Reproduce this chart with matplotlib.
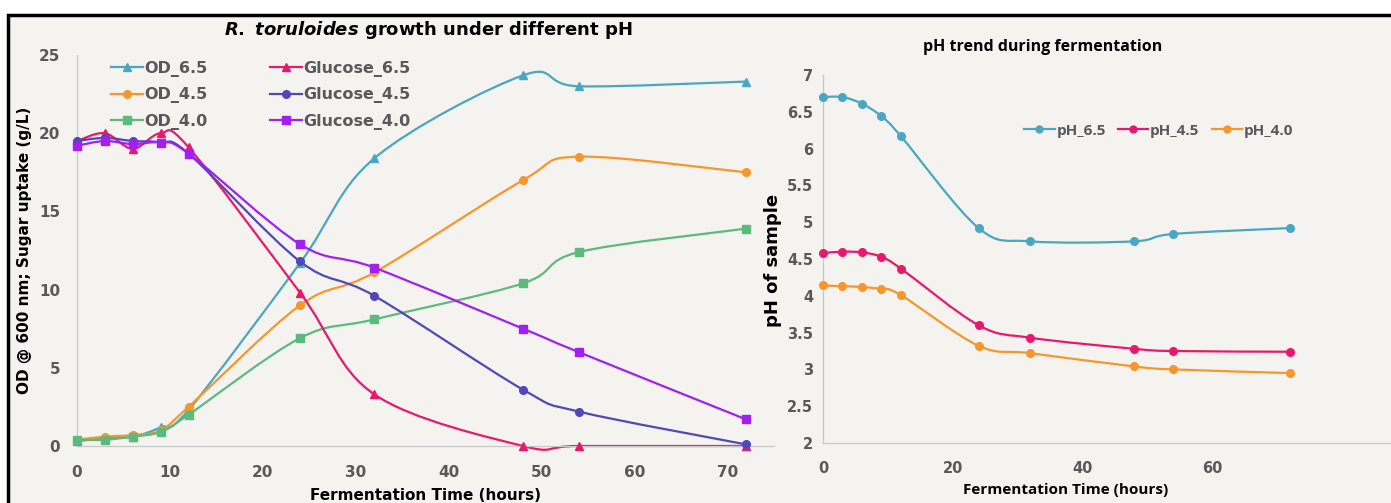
import matplotlib
matplotlib.use("Agg")
import matplotlib.pyplot as plt
import numpy as np
from matplotlib.path import Path
from matplotlib.patches import PathPatch, Rectangle
from matplotlib.lines import Line2D

plt.rcParams['font.family'] = ['DejaVu Sans']
plt.rcParams['mathtext.fontset'] = 'custom'
plt.rcParams['mathtext.it'] = 'DejaVu Sans:italic:bold'
plt.rcParams['mathtext.rm'] = 'DejaVu Sans:bold'

# --- данные: рост и потребление глюкозы ---
hours = [0, 3, 6, 9, 12, 24, 32, 48, 54, 72]

od_65 = [0.3, 0.5, 0.6, 1.2, 2.3, 11.7, 18.4, 23.7, 23.0, 23.3]
od_45 = [0.4, 0.6, 0.7, 1.0, 2.5, 9.0, 11.1, 17.0, 18.5, 17.5]
od_40 = [0.4, 0.4, 0.6, 0.9, 2.0, 6.9, 8.1, 10.4, 12.4, 13.9]
glc_65 = [19.5, 20.0, 19.0, 20.0, 19.1, 9.8, 3.3, 0.0, 0.0, 0.0]
glc_45 = [19.5, 19.7, 19.5, 19.4, 18.7, 11.8, 9.6, 3.6, 2.2, 0.1]
glc_40 = [19.2, 19.5, 19.3, 19.4, 18.7, 12.9, 11.4, 7.5, 6.0, 1.7]

# --- данные: pH во время ферментации ---
ph_65 = [6.70, 6.70, 6.61, 6.44, 6.17, 4.92, 4.74, 4.74, 4.84, 4.92]
ph_45 = [4.58, 4.60, 4.59, 4.53, 4.37, 3.60, 3.43, 3.28, 3.25, 3.24]
ph_40 = [4.14, 4.13, 4.12, 4.09, 4.01, 3.32, 3.22, 3.04, 3.00, 2.95]

TEAL = '#4aa6c1'
ORANGE = '#f7962c'
GREEN = '#5db97c'
PINK = '#e8196c'
INDIGO = '#5047b9'
PURPLE = '#a21ff2'
GRAY = '#595959'
BG = '#f4f3ef'
NARROW = 'Open Sans'


def smooth_line(ax, x, y, color, lw=1.6):
    # сглаженная линия как в Excel (Catmull-Rom -> Безье)
    p = np.column_stack([x, y]).astype(float)
    pts = [p[0]]
    codes = [Path.MOVETO]
    n = len(p)
    for i in range(n - 1):
        p0 = p[i - 1] if i > 0 else p[i]
        p3 = p[i + 2] if i + 2 < n else p[i + 1]
        c1 = p[i] + (p[i + 1] - p0) / 6
        c2 = p[i + 1] - (p3 - p[i]) / 6
        pts += [c1, c2, p[i + 1]]
        codes += [Path.CURVE4] * 3
    patch = PathPatch(Path(pts, codes), facecolor='none', edgecolor=color,
                      lw=lw, transform=ax.transData, clip_on=False)
    ax.add_patch(patch)


fig = plt.figure(figsize=(13.91, 5.03), dpi=100)
fig.patch.set_facecolor('white')
frame = Rectangle((8 / 1391, -0.1), 1.2, (503 - 15) / 503 + 0.1,
                  transform=fig.transFigure, facecolor=BG, edgecolor='black',
                  lw=2.5, zorder=-10)
fig.patches.append(frame)

ax1 = fig.add_axes([77 / 1391, 57 / 503, 697 / 1391, 391 / 503])
ax2 = fig.add_axes([823 / 1391, 60 / 503, 568 / 1391, 368 / 503])

series1 = [
    ('OD_6.5', od_65, TEAL, '^'),
    ('OD_4.5', od_45, ORANGE, 'o'),
    ('OD_4.0', od_40, GREEN, 's'),
    ('Glucose_6.5', glc_65, PINK, '^'),
    ('Glucose_4.5', glc_45, INDIGO, 'o'),
    ('Glucose_4.0', glc_40, PURPLE, 's'),
]
handles1 = []
for name, vals, col, mk in series1:
    smooth_line(ax1, hours, vals, col)
    ax1.plot(hours, vals, ls='none', marker=mk, color=col, ms=5.5, clip_on=False, zorder=5)
    handles1.append(Line2D([], [], color=col, lw=1.6, marker=mk, ms=5.5, label=name))

series2 = [
    ('pH_6.5', ph_65, TEAL),
    ('pH_4.5', ph_45, PINK),
    ('pH_4.0', ph_40, ORANGE),
]
handles2 = []
for name, vals, col in series2:
    smooth_line(ax2, hours, vals, col)
    ax2.plot(hours, vals, ls='none', marker='o', color=col, ms=5.5, clip_on=False, zorder=5)
    handles2.append(Line2D([], [], color=col, lw=1.6, marker='o', ms=5, label=name))

ax1.set_xlim(0, 75)
ax1.set_ylim(0, 25)
ax1.set_xticks(range(0, 71, 10))
ax1.set_yticks(range(0, 26, 5))
ax2.set_xlim(0, 87.6)
ax2.set_ylim(2, 7)
ax2.set_xticks([0, 20, 40, 60])
ax2.set_yticks(np.arange(2, 7.01, 0.5))
ax2.set_yticklabels(['2', '2.5', '3', '3.5', '4', '4.5', '5', '5.5', '6', '6.5', '7'])

for ax in (ax1, ax2):
    ax.set_facecolor('none')
    for s in ('top', 'right'):
        ax.spines[s].set_visible(False)
    for s in ('left', 'bottom'):
        ax.spines[s].set_color('#c8c8c8')
        ax.spines[s].set_linewidth(0.9)
    ax.tick_params(length=0, colors=GRAY, labelsize=11)
    for lab in ax.get_xticklabels() + ax.get_yticklabels():
        lab.set_fontweight('bold')
ax1.tick_params(axis='y', pad=12)
ax1.tick_params(axis='x', pad=14)
ax2.tick_params(labelsize=10.5, axis='y', pad=7)
ax2.tick_params(labelsize=10.5, axis='x', pad=13)

leg1 = ax1.legend(handles=handles1, ncol=2, loc='upper left', bbox_to_anchor=(0.028, 1.022),
                  frameon=False, prop={'weight': 'bold', 'size': 11.5},
                  handlelength=2.0, handletextpad=0.1, columnspacing=3.9, labelspacing=0.66)
for t in leg1.get_texts():
    t.set_color(GRAY)
leg2 = ax2.legend(handles=handles2, ncol=3, loc='upper left', bbox_to_anchor=(0.33, 0.905),
                  frameon=False, prop={'family': NARROW, 'weight': 'bold', 'size': 11},
                  handlelength=2.0, handletextpad=0.1, columnspacing=0.8)
for t in leg2.get_texts():
    t.set_color(GRAY)

# заголовки и подписи осей
fig.text(428 / 1391, 1 - 30 / 503, r'$\mathit{R.\ toruloides}$ growth under different pH',
         ha='center', va='center', fontsize=13, fontweight='bold')
fig.text(1043 / 1391, 1 - 47 / 503, 'pH trend during fermentation',
         ha='center', va='center', fontsize=11.5, fontweight='bold', family=NARROW)
fig.text(25 / 1391, 1 - 250 / 503, 'OD @ 600 nm; Sugar uptake (g/L)', rotation=90,
         ha='center', va='center', fontsize=11, fontweight='bold')
fig.text(773 / 1391, 1 - 260 / 503, 'pH of sample', rotation=90,
         ha='center', va='center', fontsize=13, fontweight='bold')
fig.text(425 / 1391, 1 - 496 / 503, 'Fermentation Time (hours)',
         ha='center', va='center', fontsize=11, fontweight='bold')
fig.text(1066 / 1391, 1 - 490 / 503, 'Fermentation Time (hours)',
         ha='center', va='center', fontsize=11, fontweight='bold', family=NARROW)

fig.savefig('out.png', dpi=100, facecolor=fig.get_facecolor())
